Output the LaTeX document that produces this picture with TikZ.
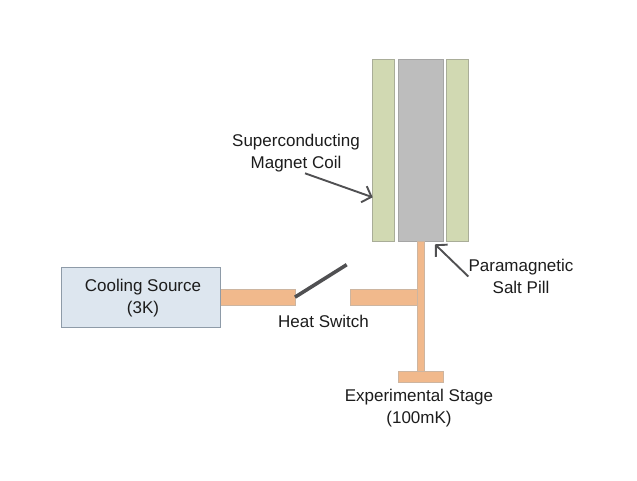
\documentclass[tikz,border=0pt]{standalone}
\usepackage{fontspec}
\setmainfont{Liberation Sans}
\usetikzlibrary{arrows.meta}
\definecolor{coilfill}{HTML}{D1D9B2}
\definecolor{coilline}{HTML}{A9AD98}
\definecolor{pillfill}{HTML}{BDBDBD}
\definecolor{pillline}{HTML}{A5A5A5}
\definecolor{copperfill}{HTML}{F1B98C}
\definecolor{copperline}{HTML}{CDB5A0}
\definecolor{sourcefill}{HTML}{DDE6EF}
\definecolor{sourceline}{HTML}{8E9BA8}
\definecolor{inkdark}{HTML}{505052}
\definecolor{textdark}{HTML}{1C1C1C}
\tikzset{
  part/.style={rectangle,inner sep=0pt,outer sep=0pt,line width=0.9pt},
  coil/.style={part,draw=coilline,fill=coilfill,minimum width=22.4pt,minimum height=182pt},
  pill/.style={part,draw=pillline,fill=pillfill,minimum width=45pt,minimum height=182pt},
  copper/.style={part,draw=copperline,fill=copperfill},
  source/.style={part,draw=sourceline,fill=sourcefill,minimum width=159.2pt,minimum height=60pt},
  label/.style={inner sep=0pt,align=center,text=textdark,font=\fontsize{17}{22}\selectfont},
  pointer/.style={draw=inkdark,line width=1.9pt,-{Straight Barb[length=8pt,width=17pt,line width=1.9pt]}},
  switcharm/.style={draw=inkdark,line width=3.6pt}
}
\begin{document}
\begin{tikzpicture}[x=1pt,y=-1pt]
\useasboundingbox (0,0) rectangle (637,480);
\node[coil] (coilL) at (383.5,150) {};
\node[coil] (coilR) at (457.7,150) {};
\node[pill] (saltpill) at (420.8,150) {};
\node[copper,minimum width=7.4pt,minimum height=130.7pt] (stem) at (421,306.35) {};
\node[copper,minimum width=45pt,minimum height=11.7pt] (stage) at (420.8,376.85) {};
\node[copper,minimum width=67.3pt,minimum height=15.7pt] (armR) at (383.65,297.15) {};
\node[copper,minimum width=75pt,minimum height=15.7pt] (armL) at (257.5,297.15) {};
\node[source] (source) at (140.9,297.3) {};
\node[label] (sourcetext) at (143,297.8) {Cooling Source\\(3K)};
\node[label] (switchtext) at (323.5,321.5) {Heat Switch};
\node[label] (magnettext) at (296,153) {Superconducting\\Magnet Coil};
\node[label] (pilltext) at (521,276.5) {Paramagnetic\\Salt Pill};
\node[label] (stagetext) at (419,408) {Experimental Stage\\(100mK)};
\coordinate (switchtip) at (346.7,264.7);
\coordinate (magnetstart) at (305,173.3);
\coordinate (magnetend) at (372.7,197.3);
\coordinate (pillend) at (435,244.3);
\draw[switcharm] (armL.east) -- (switchtip);
\draw[pointer] (magnetstart) -- (magnetend);
\draw[pointer] (pilltext.west) -- (pillend);
\end{tikzpicture}
\end{document}
